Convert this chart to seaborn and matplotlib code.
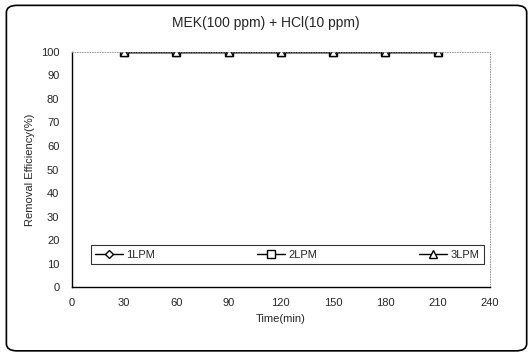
import matplotlib
matplotlib.use("Agg")
import matplotlib.pyplot as plt
import seaborn as sns
import pandas as pd
from matplotlib.patches import FancyBboxPatch

time_min = [30, 60, 90, 120, 150, 180, 210]
lpm1 = [100, 100, 100, 100, 100, 100, 100]
lpm2 = [100, 100, 100, 100, 100, 100, 100]
lpm3 = [100, 100, 100, 100, 100, 100, 100]
series_names = ["1LPM", "2LPM", "3LPM"]
x_ticks = [0, 30, 60, 90, 120, 150, 180, 210, 240]
y_ticks = [0, 10, 20, 30, 40, 50, 60, 70, 80, 90, 100]

df = pd.DataFrame({
    "Time": time_min * 3,
    "Eff": lpm1 + lpm2 + lpm3,
    "Series": [series_names[0]] * 7 + [series_names[1]] * 7 + [series_names[2]] * 7,
})

sns.set_theme(style="white")
plt.rcParams['font.family'] = ['Liberation Sans', 'DejaVu Sans']

fig = plt.figure(figsize=(5.32, 3.58), dpi=100)
ax = fig.add_axes([0.135, 0.198, 0.786, 0.657])

markers = {"1LPM": "D", "2LPM": "s", "3LPM": "^"}
sizes = {"1LPM": 4.5, "2LPM": 5.5, "3LPM": 5.5}
for name in series_names:
    sub = df[df["Series"] == name]
    sns.lineplot(data=sub, x="Time", y="Eff", ax=ax, color="black", lw=1.0,
                 marker=markers[name], markersize=sizes[name],
                 markerfacecolor="white", markeredgecolor="black",
                 markeredgewidth=1.0, label=name)

ax.set_xlim(0, 240)
ax.set_ylim(0, 100)
ax.set_xticks(x_ticks)
ax.set_yticks(y_ticks)
ax.tick_params(axis="y", direction="out", length=3, width=0.8, labelsize=8, pad=6, color="black")
ax.tick_params(axis="x", direction="in", length=3, width=0.8, labelsize=8, pad=8, color="black")
ax.set_xlabel("Time(min)", fontsize=8, labelpad=4)
ax.set_ylabel("Removal Efficiency(%)", fontsize=8, labelpad=4)
for s in ["left", "bottom"]:
    ax.spines[s].set_color("black")
    ax.spines[s].set_linewidth(1.0)
for s in ["top", "right"]:
    ax.spines[s].set_color("#888888")
    ax.spines[s].set_linewidth(0.6)
    ax.spines[s].set_linestyle((0, (1, 2)))

leg = ax.legend(loc="center", bbox_to_anchor=(0.045, 0.085, 0.94, 0.105),
                mode="expand", ncol=3, frameon=True, fancybox=False,
                fontsize=8, handlelength=2.5, borderpad=0.4,
                handletextpad=0.3, borderaxespad=0)
leg.get_frame().set_edgecolor("black")
leg.get_frame().set_linewidth(0.8)

fig.text(0.5, 0.935, "MEK(100 ppm) + HCl(10 ppm)", ha="center", va="center", fontsize=10)

border = FancyBboxPatch((0.012, 0.02), 0.978, 0.965,
                        boxstyle="round,pad=0,rounding_size=0.02",
                        transform=fig.transFigure, fill=False,
                        edgecolor="black", linewidth=1.2)
fig.patches.append(border)

fig.savefig("out.png", dpi=100)
